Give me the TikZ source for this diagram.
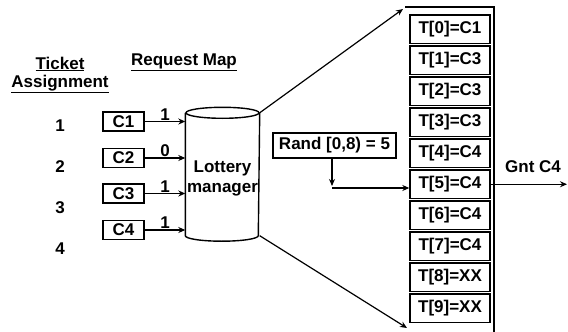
\documentclass[tikz,border=0pt]{standalone}
\usepackage{fontspec}
\setmainfont{Liberation Sans}
\usetikzlibrary{arrows.meta}
\begin{document}
\begin{tikzpicture}[x=1pt,y=-1pt,line width=1.4pt,
  every node/.style={font=\fontsize{17}{20}\selectfont\bfseries,inner sep=0pt},
  cell/.style={draw,line width=1.4pt,minimum width=80pt,minimum height=28.5pt},
  cbox/.style={draw,minimum width=41pt,minimum height=19pt},
  arr/.style={-{Stealth[length=7pt,width=6pt]}},
  fan/.style={arr,line width=1.2pt}]
\useasboundingbox (0,0) rectangle (568,332);

% headings
\node (tk) at (60,64) {\underline{Ticket}};
\node (as) at (60,84) {\underline{Assignment}};
\node (rm) at (184,62) {\underline{Request Map}};

% ticket numbers
\foreach \k/\y in {1/126,2/167,3/208,4/249}
  \node (n\k) at (60,\y) {\k};

% lottery manager cylinder
\node[minimum width=73pt,minimum height=121.5pt] (cyl) at (222.5,174.25) {};
\draw (cyl.north west) -- (cyl.south west)
  arc[start angle=180,end angle=360,x radius=36.5pt,y radius=5.5pt] -- (cyl.north east);
\draw (cyl.north) ellipse[x radius=36.5pt,y radius=5.5pt];
\node[align=center] (lm) at (222.5,178.5) {Lottery\\manager};

% clients and their requests
\foreach \k/\y/\w in {1/121.5/1,2/158/0,3/193.5/1,4/230/1} {
  \node[cbox] (c\k) at (123.5,\y) {C\k};
  \draw[arr] (c\k.east) -- (c\k.east -| cyl.west)
    node[midway,above=0.5pt] (w\k) {\w};
}

% ticket table
\foreach \i/\c in {0/C1,1/C3,2/C3,3/C3,4/C4,5/C4,6/C4,7/C4,8/XX,9/XX}
  \node[cell] (t\i) at (450,{29.25+31*\i}) {T[\i]=\c};
\coordinate (ctl) at (405,7);
\coordinate (ctr) at (494,7);
\coordinate (cbr) at (494,333);
\draw (ctl) -- (ctr) -- (cbr);

% fan out from the manager to the table
\coordinate (fantop) at (403,9);
\coordinate (fanbot) at (407,328);
\draw[fan] (cyl.north east) -- (fantop);
\draw[fan] (cyl.south east) -- (fanbot);

% random draw selects a ticket
\node[draw,minimum width=123pt,minimum height=25pt] (rand) at (334.5,145.5) {Rand [0,8) = 5};
\coordinate (turn) at (332,188);
\draw[arr] (rand.south -| turn) -- ([yshift=2pt]turn);
\draw[arr] (turn) -- (turn -| t5.west);

% grant
\coordinate (gnt) at (567,184.25);
\draw[arr] (t5.east) -- (gnt);
\node (gntl) at (533,167) {Gnt C4};
\end{tikzpicture}
\end{document}
